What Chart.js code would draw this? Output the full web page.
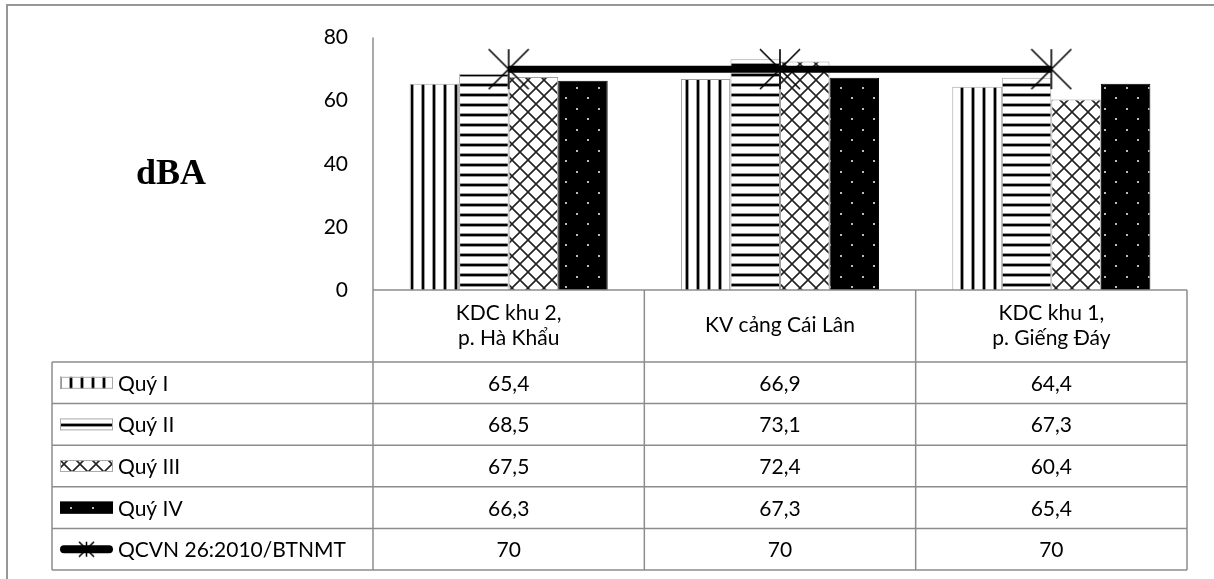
<!DOCTYPE html>
<html>
<head>
<meta charset="utf-8">
<script src="https://cdn.jsdelivr.net/npm/chart.js@4"></script>
<style>
  html, body { margin: 0; padding: 0; background: #fff; }
  #wrap { width: 1214px; height: 579px; }
</style>
</head>
<body>
<div id="wrap"><canvas id="chart" width="1214" height="579"></canvas></div>
<script>
const categories = [['KDC khu 2,', 'p. Hà Khẩu'], ['KV cảng Cái Lân'], ['KDC khu 1,', 'p. Giếng Đáy']];
const quy1 = [65.4, 66.9, 64.4];
const quy2 = [68.5, 73.1, 67.3];
const quy3 = [67.5, 72.4, 60.4];
const quy4 = [66.3, 67.3, 65.4];
const qcvn = [70, 70, 70];
const seriesNames = ['Quý I', 'Quý II', 'Quý III', 'Quý IV', 'QCVN 26:2010/BTNMT'];
const yTicks = [0, 20, 40, 60, 80];
const unitLabel = 'dBA';

const FONT = 'Lato';
const canvas = document.getElementById('chart');
const ctx = canvas.getContext('2d');

function tile(w, h, draw) {
    const c = document.createElement('canvas');
    c.width = w;
    c.height = h;
    draw(c.getContext('2d'), w, h);
    return ctx.createPattern(c, 'repeat');
}

// Excel-like fill patterns for the four quarters
const patterns = [
    tile(11, 11, (g, w, h) => {
        g.fillStyle = '#fff'; g.fillRect(0, 0, w, h);
        g.fillStyle = '#999'; g.fillRect(3, 0, 1, h); g.fillRect(6, 0, 1, h);
        g.fillStyle = '#000'; g.fillRect(4, 0, 2, h);
    }),
    tile(10, 10, (g, w, h) => {
        g.fillStyle = '#fff'; g.fillRect(0, 0, w, h);
        g.fillStyle = '#999'; g.fillRect(0, 3, w, 1); g.fillRect(0, 6, w, 1);
        g.fillStyle = '#000'; g.fillRect(0, 4, w, 2);
    }),
    tile(16, 16, (g, w, h) => {
        g.fillStyle = '#fff'; g.fillRect(0, 0, w, h);
        g.strokeStyle = '#222'; g.lineWidth = 1.6;
        g.beginPath();
        g.moveTo(0, 0); g.lineTo(w, h);
        g.moveTo(w, 0); g.lineTo(0, h);
        g.stroke();
    }),
    tile(22, 21, (g, w, h) => {
        g.fillStyle = '#000'; g.fillRect(0, 0, w, h);
        g.fillStyle = '#bbb';
        g.fillRect(4, 3, 2, 2);
        g.fillRect(15, 13, 2, 2);
    })
];

function starImage(size, lw) {
    const c = document.createElement('canvas');
    c.width = size + 2;
    c.height = size + 2;
    const g = c.getContext('2d');
    const m = size / 2 + 1;
    g.strokeStyle = '#000';
    g.lineWidth = lw;
    g.beginPath();
    g.moveTo(1, 1); g.lineTo(size + 1, size + 1);
    g.moveTo(size + 1, 1); g.lineTo(1, size + 1);
    g.moveTo(m, 1); g.lineTo(m, size + 1);
    g.stroke();
    return c;
}
const bigStar = starImage(40, 1.6);
const smallStar = starImage(15, 1.5);

const tablePlugin = {
    id: 'dataTable',
    beforeDraw(chart) {
        const c = chart.ctx;
        c.save();
        c.strokeStyle = '#8c8c8c';
        c.lineWidth = 1.8;
        c.strokeRect(7, 5, 1400, 800);
        c.restore();
    },
    afterDraw(chart) {
        const c = chart.ctx;
        const a = chart.chartArea;
        const x = chart.scales.x;
        const step = x.getPixelForValue(1) - x.getPixelForValue(0);
        const edges = [a.left];
        categories.forEach((cat, i) => edges.push(x.getPixelForValue(i) + step / 2));
        const rows = [quy1, quy2, quy3, quy4, qcvn];
        const headTop = a.bottom;
        const headBottom = 362;
        const rowH = 41.6;
        const legLeft = 52;
        const tableBottom = headBottom + rowH * rows.length;

        const line = (x1, y1, x2, y2) => {
            c.beginPath(); c.moveTo(x1, y1); c.lineTo(x2, y2); c.stroke();
        };

        c.save();
        c.strokeStyle = '#8c8c8c';
        c.lineWidth = 1.5;
        line(a.left, a.top, a.left, a.bottom);
        line(a.left, headTop, edges[edges.length - 1], headTop);
        for (let r = 0; r <= rows.length; r++) {
            line(legLeft, headBottom + r * rowH, edges[edges.length - 1], headBottom + r * rowH);
        }
        edges.forEach(e => line(e, headTop, e, tableBottom));
        line(legLeft, headBottom, legLeft, tableBottom);

        c.fillStyle = '#000';
        c.font = `21px ${FONT}`;
        c.textAlign = 'center';
        c.textBaseline = 'alphabetic';
        const headMid = (headTop + headBottom) / 2;
        categories.forEach((cat, i) => {
            const cx = x.getPixelForValue(i);
            cat.forEach((txt, k) => {
                c.fillText(txt, cx, headMid + 6 + (k - (cat.length - 1) / 2) * 25);
            });
        });

        rows.forEach((vals, r) => {
            const mid = headBottom + r * rowH + rowH / 2;
            vals.forEach((v, i) => {
                c.fillText(String(v).replace('.', ','), x.getPixelForValue(i), mid + 8);
            });
            // legend keys
            const kx = 60, kw = 53;
            if (r < 4) {
                c.fillStyle = patterns[r];
                c.fillRect(kx, mid - 6, kw, 12);
                c.strokeStyle = r === 3 ? '#000' : '#aaa';
                c.lineWidth = 1;
                c.strokeRect(kx + 0.5, mid - 5.5, kw - 1, 11);
            } else {
                c.strokeStyle = '#000';
                c.lineWidth = 8;
                c.lineCap = 'round';
                line(kx + 4, mid, kx + kw - 4, mid);
                c.drawImage(smallStar, kx + kw / 2 - smallStar.width / 2, mid - smallStar.height / 2);
            }
            c.fillStyle = '#000';
            c.textAlign = 'left';
            c.fillText(seriesNames[r], 118, mid + 8);
            c.textAlign = 'center';
        });

        c.font = 'bold 36px "Liberation Serif"';
        c.fillText(unitLabel, 171, 184);
        c.restore();
    }
};

const barBorders = ['#a0a0a0', '#a0a0a0', '#a0a0a0', '#000'];
const barData = [quy1, quy2, quy3, quy4];

new Chart(ctx, {
    data: {
        labels: categories,
        datasets: [
            {
                type: 'line',
                label: seriesNames[4],
                data: qcvn,
                order: 0,
                borderColor: '#000',
                borderWidth: 7,
                pointStyle: bigStar,
                pointRadius: 20,
                pointHoverRadius: 20,
                fill: false
            },
            ...barData.map((d, i) => ({
                type: 'bar',
                label: seriesNames[i],
                data: d,
                order: 1,
                backgroundColor: patterns[i],
                borderColor: barBorders[i],
                borderWidth: 1,
                barPercentage: 1,
                categoryPercentage: 0.73
            }))
        ]
    },
    options: {
        responsive: false,
        animation: false,
        layout: { padding: { top: 35, right: 26, bottom: 289, left: 0 } },
        plugins: {
            legend: { display: false },
            tooltip: { enabled: false }
        },
        scales: {
            x: { display: false },
            y: {
                min: yTicks[0],
                max: yTicks[yTicks.length - 1],
                afterBuildTicks: s => { s.ticks = yTicks.map(v => ({ value: v })); },
                afterFit: s => { s.width = 373; },
                grid: { display: false, drawTicks: false },
                border: { display: false },
                ticks: {
                    padding: 25,
                    color: '#000',
                    font: { family: FONT, size: 21 }
                }
            }
        }
    },
    plugins: [tablePlugin]
});
</script>
</body>
</html>
